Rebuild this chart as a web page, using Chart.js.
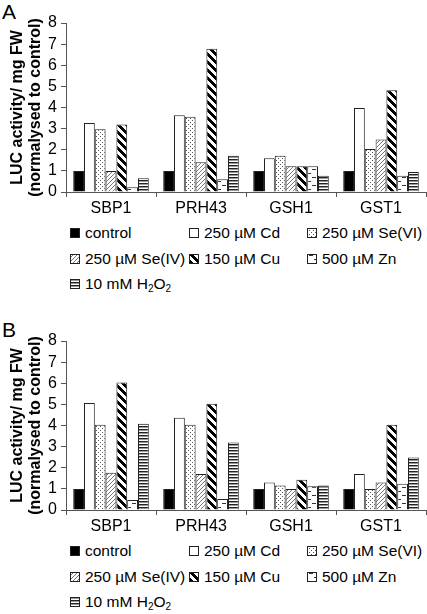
<!DOCTYPE html>
<html>
<head>
<meta charset="utf-8">
<script src="https://cdn.jsdelivr.net/npm/chart.js@4"></script>
<style>
  body { margin: 0; background: #fff; font-family: "Liberation Sans", Arial, sans-serif; }
  .panel { position: relative; width: 427px; height: 318px; }
  .panel canvas.chart { position: absolute; left: 0; top: 0; }
  .tag { position: absolute; left: 2px; top: 0px; font-size: 21px; color: #000; }
  .item { position: absolute; height: 18px; display: flex; align-items: center; font-size: 15.5px; color: #000; white-space: nowrap; }
  .item canvas { margin-right: 5px; }
  sub { font-size: 10px; vertical-align: -3px; }
</style>
</head>
<body>
<div class="panel" id="panelA"><div class="tag">A</div><canvas class="chart" id="chartA" width="427" height="224"></canvas></div>
<div class="panel" id="panelB"><div class="tag">B</div><canvas class="chart" id="chartB" width="427" height="224"></canvas></div>
<script>
const categories = [`SBP1`, `PRH43`, `GSH1`, `GST1`];
const seriesLabels = [`control`, `250 µM Cd`, `250 µM Se(VI)`, `250 µM Se(IV)`, `150 µM Cu`, `500 µM Zn`, `10 mM H₂O₂`];
const yTicks = [0, 1, 2, 3, 4, 5, 6, 7, 8];

// panel A
const controlA = [1, 1, 1, 1];
const cdA = [3.27, 3.63, 1.6, 3.98];
const se6A = [2.97, 3.56, 1.72, 2.04];
const se4A = [1.0, 1.41, 1.22, 2.48];
const cuA = [3.2, 6.78, 1.22, 4.82];
const znA = [0.22, 0.6, 1.22, 0.77];
const h2o2A = [0.65, 1.72, 0.77, 0.95];

// panel B
const controlB = [1, 1, 1, 1];
const cdB = [5.07, 4.37, 1.3, 1.71];
const se6B = [4.03, 4.03, 1.16, 1.0];
const se4B = [1.76, 1.71, 0.99, 1.3];
const cuB = [6.03, 5.03, 1.43, 4.03];
const znB = [0.47, 0.52, 1.12, 1.24];
const h2o2B = [4.08, 3.2, 1.16, 2.48];

const FONT = `"Liberation Sans", Arial, sans-serif`;
const AXIS_COLOR = `#555`;

const makePattern = (w, h, draw) => {
  const tile = document.createElement(`canvas`);
  tile.width = w;
  tile.height = h;
  const ctx = tile.getContext(`2d`);
  ctx.fillStyle = `#fff`;
  ctx.fillRect(0, 0, w, h);
  draw(ctx);
  return ctx.createPattern(tile, `repeat`);
};

const px = (ctx, color, pts) => {
  ctx.fillStyle = color;
  pts.forEach(([x, y, w = 1]) => ctx.fillRect(x, y, w, 1));
};

const fills = [
  `#000`,
  `#fff`,
  makePattern(4, 4, (c) => px(c, `#555`, [[0, 0], [2, 2]])),
  makePattern(4, 4, (c) => px(c, `#777`, [[3, 0], [2, 1], [1, 2], [0, 3]])),
  makePattern(8, 8, (c) => {
    c.fillStyle = `#000`;
    for (let y = 0; y < 8; y++) {
      for (let x = 0; x < 8; x++) {
        if (((x - y) % 8 + 8) % 8 < 4) c.fillRect(x, y, 1, 1);
      }
    }
  }),
  makePattern(10, 8, (c) => px(c, `#333`, [[2, 1, 4], [7, 5, 3], [0, 5, 1]])),
  makePattern(1, 3, (c) => { px(c, `#222`, [[0, 0]]); px(c, `#999`, [[0, 1]]); })
];

const buildChart = (id, series) => new Chart(document.getElementById(id), {
  type: `bar`,
  data: {
    labels: categories,
    datasets: series.map((values, i) => ({
      label: seriesLabels[i],
      data: values,
      backgroundColor: fills[i],
      borderColor: `#222`,
      borderWidth: 1,
      categoryPercentage: 0.84,
      barPercentage: 1
    }))
  },
  options: {
    responsive: false,
    animation: false,
    layout: {padding: {top: 23, right: 1, left: 0, bottom: 0}},
    plugins: {legend: {display: false}, tooltip: {enabled: false}},
    scales: {
      x: {
        afterFit: (s) => { s.height = 32; },
        grid: {drawOnChartArea: false, drawTicks: true, tickLength: 5, color: AXIS_COLOR, offset: true},
        border: {color: AXIS_COLOR},
        ticks: {color: `#000`, font: {family: FONT, size: 16}, padding: 2}
      },
      y: {
        min: yTicks[0],
        max: yTicks[yTicks.length - 1],
        afterFit: (s) => { s.width = 66; },
        afterBuildTicks: (s) => { s.ticks = yTicks.map((v) => ({value: v})); },
        grid: {drawOnChartArea: false, drawTicks: true, tickLength: 5, color: AXIS_COLOR},
        border: {color: AXIS_COLOR},
        ticks: {color: `#000`, font: {family: FONT, size: 16}, padding: 4, autoSkip: false},
        title: {
          display: true,
          text: [`LUC activity/ mg FW`, `(normalysed to control)`],
          color: `#000`,
          font: {family: FONT, size: 16, weight: `bold`, lineHeight: 1.125},
          padding: {top: 9, bottom: 0}
        }
      }
    }
  }
});

const legendCols = [70, 189, 307];
const legendRows = [233, 258.5, 284];

const buildLegend = (panelId) => {
  const panel = document.getElementById(panelId);
  seriesLabels.forEach((label, i) => {
    const item = document.createElement(`div`);
    item.className = `item`;
    item.style.left = `${legendCols[i % 3]}px`;
    item.style.top = `${legendRows[Math.floor(i / 3)] - 9}px`;
    const sw = document.createElement(`canvas`);
    sw.width = 10;
    sw.height = 10;
    const ctx = sw.getContext(`2d`);
    ctx.fillStyle = fills[i];
    ctx.fillRect(0, 0, 10, 10);
    ctx.strokeStyle = `#222`;
    ctx.lineWidth = 1;
    ctx.strokeRect(0.5, 0.5, 9, 9);
    item.appendChild(sw);
    const text = document.createElement(`span`);
    text.innerHTML = label === `10 mM H₂O₂` ? `10 mM H<sub>2</sub>O<sub>2</sub>` : label;
    item.appendChild(text);
    panel.appendChild(item);
  });
};

buildChart(`chartA`, [controlA, cdA, se6A, se4A, cuA, znA, h2o2A]);
buildChart(`chartB`, [controlB, cdB, se6B, se4B, cuB, znB, h2o2B]);
buildLegend(`panelA`);
buildLegend(`panelB`);
</script>
</body>
</html>
